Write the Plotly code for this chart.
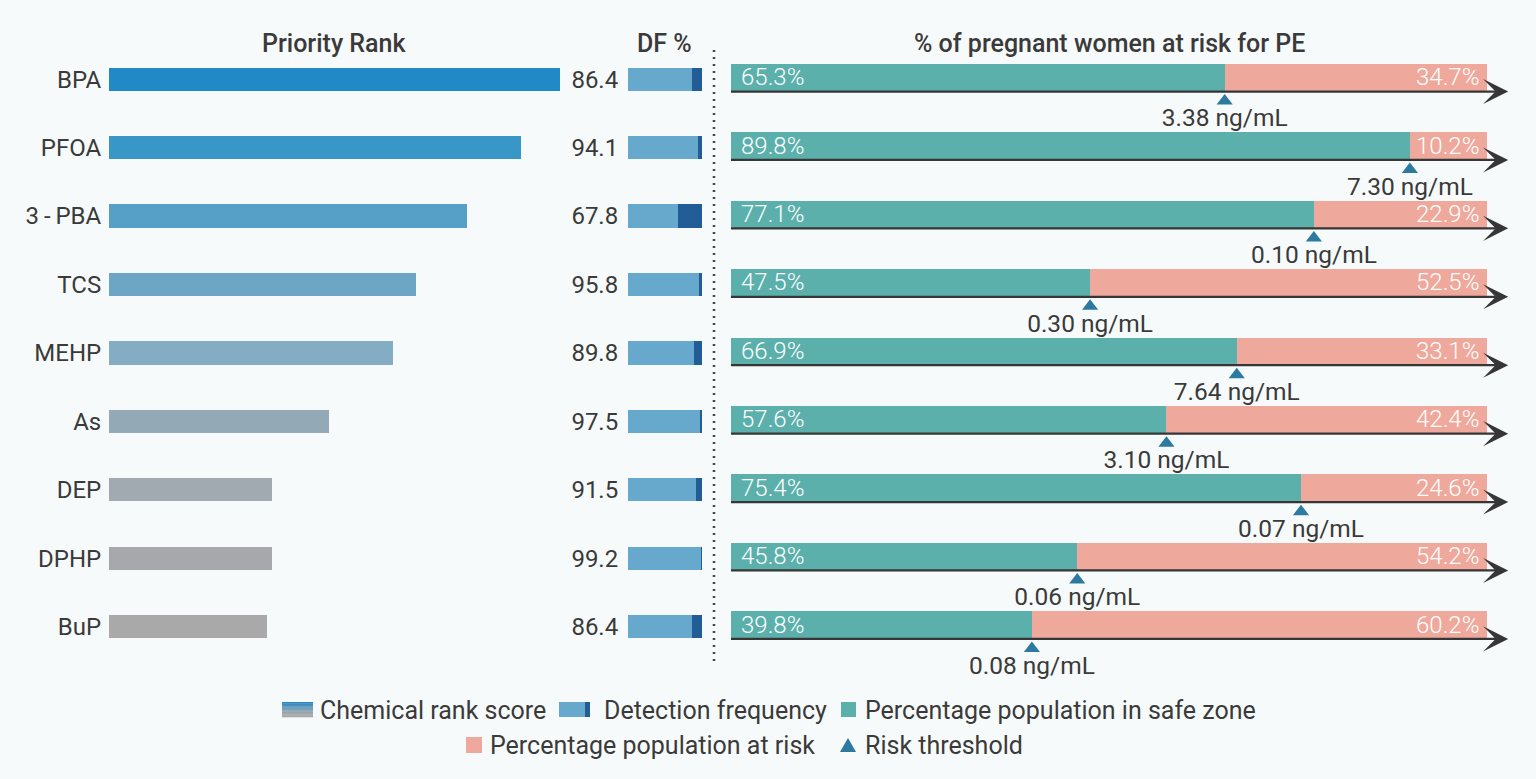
import plotly.graph_objects as go

# data
chemicals = ["BPA", "PFOA", "3\u2009-\u2009PBA", "TCS", "MEHP", "As", "DEP", "DPHP", "BuP"]
rank_score = [1.00, 0.913, 0.794, 0.681, 0.630, 0.488, 0.361, 0.361, 0.350]
df_pct = [86.4, 94.1, 67.8, 95.8, 89.8, 97.5, 91.5, 99.2, 86.4]
df_rest = [13.6, 5.9, 32.2, 4.2, 10.2, 2.5, 8.5, 0.8, 13.6]
safe_pct = [65.3, 89.8, 77.1, 47.5, 66.9, 57.6, 75.4, 45.8, 39.8]
risk_pct = [34.7, 10.2, 22.9, 52.5, 33.1, 42.4, 24.6, 54.2, 60.2]
threshold = ["3.38", "7.30", "0.10", "0.30", "7.64", "3.10", "0.07", "0.06", "0.08"]
rows = list(range(len(chemicals)))

# style
rank_colors = ["#2189c5", "#3997c8", "#56a0c7", "#6da6c4", "#84acc2",
               "#94a9b6", "#a1aab0", "#a6a8ab", "#a9a9a9"]
df_light = "#67a9cc"
df_dark = "#235d98"
safe_col = "#5bb0ac"
risk_col = "#eea99c"
tri_col = "#2c7aa0"
txt = "#3a3a3a"
bg = "#f7fafa"
FONT = "Roboto"

W, H = 1536, 779


def px_x(p):
    return p / W


def px_y(p):
    return 1 - p / H


fig = go.Figure()

# priority rank
fig.add_trace(go.Bar(x=rank_score, y=rows, orientation="h", width=0.34,
                     marker=dict(color=rank_colors, line_width=0),
                     xaxis="x", yaxis="y", hoverinfo="skip"))

# detection frequency
fig.add_trace(go.Bar(x=df_pct, y=rows, orientation="h", width=0.34,
                     marker=dict(color=df_light, line_width=0),
                     xaxis="x2", yaxis="y2"))
fig.add_trace(go.Bar(x=df_rest, y=rows, orientation="h", width=0.34,
                     marker=dict(color=df_dark, line_width=0),
                     xaxis="x2", yaxis="y2"))

# safe / risk
fig.add_trace(go.Bar(x=safe_pct, y=rows, orientation="h", width=0.395, offset=-0.225,
                     marker=dict(color=safe_col, line_width=0),
                     xaxis="x3", yaxis="y3"))
fig.add_trace(go.Bar(x=risk_pct, y=rows, orientation="h", width=0.395, offset=-0.225,
                     marker=dict(color=risk_col, line_width=0),
                     xaxis="x3", yaxis="y3"))

# threshold markers + labels
fig.add_trace(go.Scatter(x=safe_pct, y=[r + 0.32 for r in rows], mode="markers",
                         marker=dict(symbol="triangle-up", size=14, color=tri_col),
                         xaxis="x3", yaxis="y3", cliponaxis=False))
fig.add_trace(go.Scatter(x=safe_pct, y=[r + 0.6 for r in rows], mode="text",
                         text=[t + " ng/mL" for t in threshold],
                         textfont=dict(family=FONT, size=24.5, color=txt),
                         xaxis="x3", yaxis="y3", cliponaxis=False))

annotations = []
for r in rows:
    # axis arrow under each bar (text left to its default " ")
    annotations.append(dict(x=102.8, y=r + 0.18, ax=-0.6, ay=r + 0.18,
                            xref="x3", yref="y3", axref="x3", ayref="y3",
                            showarrow=True, arrowhead=3, arrowsize=1.9,
                            arrowwidth=2.2, arrowcolor="#363636"))
    annotations.append(dict(x=0, y=r - 0.03, xref="x3", yref="y3",
                            text=f"{safe_pct[r]:.1f}%", showarrow=False,
                            xanchor="left", xshift=8,
                            font=dict(family=FONT, size=24, color="white", weight=300)))
    annotations.append(dict(x=100, y=r - 0.03, xref="x3", yref="y3",
                            text=f"{risk_pct[r]:.1f}%", showarrow=False,
                            xanchor="right", xshift=-6,
                            font=dict(family=FONT, size=24, color="white", weight=300)))

# panel titles
for label, cx in [("Priority Rank", 334), ("DF %", 664),
                  ("% of pregnant women at risk for PE", 1109)]:
    annotations.append(dict(x=px_x(cx), y=px_y(44), xref="paper", yref="paper",
                            text=label, showarrow=False, xanchor="center", yanchor="middle",
                            font=dict(family=FONT, size=25, color=txt, weight=500)))

# legend texts
leg_font = dict(family=FONT, size=25, color=txt)
for label, lx, ly in [("Chemical rank score", 318, 710),
                      ("Detection frequency", 602, 710),
                      ("Percentage population in safe zone", 863, 710),
                      ("Percentage population at risk", 488, 745),
                      ("Risk threshold", 863, 745)]:
    annotations.append(dict(x=px_x(lx), y=px_y(ly), xref="paper", yref="paper",
                            text=label, showarrow=False, xanchor="left", yanchor="middle",
                            font=leg_font))

shapes = []
# dotted separator
shapes.append(dict(type="line", xref="paper", yref="paper",
                   x0=px_x(714), x1=px_x(714), y0=px_y(50), y1=px_y(662),
                   line=dict(color="#444444", width=2.5, dash="2px,5px")))


def rect(x0, x1, y0, y1, color):
    return dict(type="rect", xref="paper", yref="paper",
                x0=px_x(x0), x1=px_x(x1), y0=px_y(y1), y1=px_y(y0),
                fillcolor=color, line_width=0)


# legend icons
grad = ["#2a87c4", "#3a8cc1", "#4b92be", "#5c97bb", "#6d9db8", "#7ca1b5",
        "#8aa4b2", "#95a6af", "#9fa8ac", "#a5a8aa", "#a9a9a9"]
step = 15 / len(grad)
for k, c in enumerate(grad):
    shapes.append(rect(282, 313, 702 + k * step, 702 + (k + 1) * step + 0.3, c))
shapes.append(rect(559, 585, 702, 717, df_light))
shapes.append(rect(585, 590, 702, 717, df_dark))
shapes.append(rect(841, 856, 702, 717, safe_col))
shapes.append(rect(466, 482, 737, 753, risk_col))
shapes.append(dict(type="path", xref="paper", yref="paper",
                   path=f"M {px_x(840)},{px_y(752)} L {px_x(856)},{px_y(752)} "
                        f"L {px_x(848)},{px_y(738)} Z",
                   fillcolor=tri_col, line_width=0))

# rows sit 68.4 px apart, first row centre at 79.5 px
y_dom = [px_y(695), px_y(45)]
y_common = dict(domain=y_dom, range=[9.0, -0.5], showgrid=False, zeroline=False,
                showline=False, automargin=False, fixedrange=True)
x_common = dict(visible=False, showgrid=False, zeroline=False, automargin=False,
                fixedrange=True)

# risk panel: 0..100 % spans 731..1487 px, range padded so the arrows stay on-plot
pct_px = (1487 - 731) / 100
x3_lo, x3_hi = -1.0, 103.5

fig.update_layout(
    width=W, height=H,
    barmode="stack",
    showlegend=False,
    paper_bgcolor=bg,
    plot_bgcolor=bg,
    margin=dict(l=0, r=0, t=0, b=0),
    font=dict(family=FONT, size=24, color=txt),
    xaxis=dict(domain=[px_x(109), px_x(560)], range=[0, 1.0], anchor="y", **x_common),
    xaxis2=dict(domain=[px_x(628), px_x(702)], range=[0, 100], anchor="y2", **x_common),
    xaxis3=dict(domain=[px_x(731 + x3_lo * pct_px), px_x(731 + x3_hi * pct_px)],
                range=[x3_lo, x3_hi], anchor="y3", **x_common),
    yaxis=dict(anchor="x", tickvals=rows, ticktext=chemicals, ticks="outside",
               ticklen=2, tickcolor="rgba(0,0,0,0)",
               tickfont=dict(family=FONT, size=24, color=txt), **y_common),
    yaxis2=dict(anchor="x2", tickvals=rows, ticktext=[f"{v:.1f}" for v in df_pct],
                ticks="outside", ticklen=4, tickcolor="rgba(0,0,0,0)",
                tickfont=dict(family=FONT, size=24, color=txt), **y_common),
    yaxis3=dict(anchor="x3", showticklabels=False, **y_common),
    annotations=annotations,
    shapes=shapes,
)

fig.write_html("out.html", config={"displayModeBar": False},
               post_script="document.body.style.margin='0';"
                           "document.body.style.background='#f7fafa';"
                           "document.documentElement.style.overflow='hidden';")
